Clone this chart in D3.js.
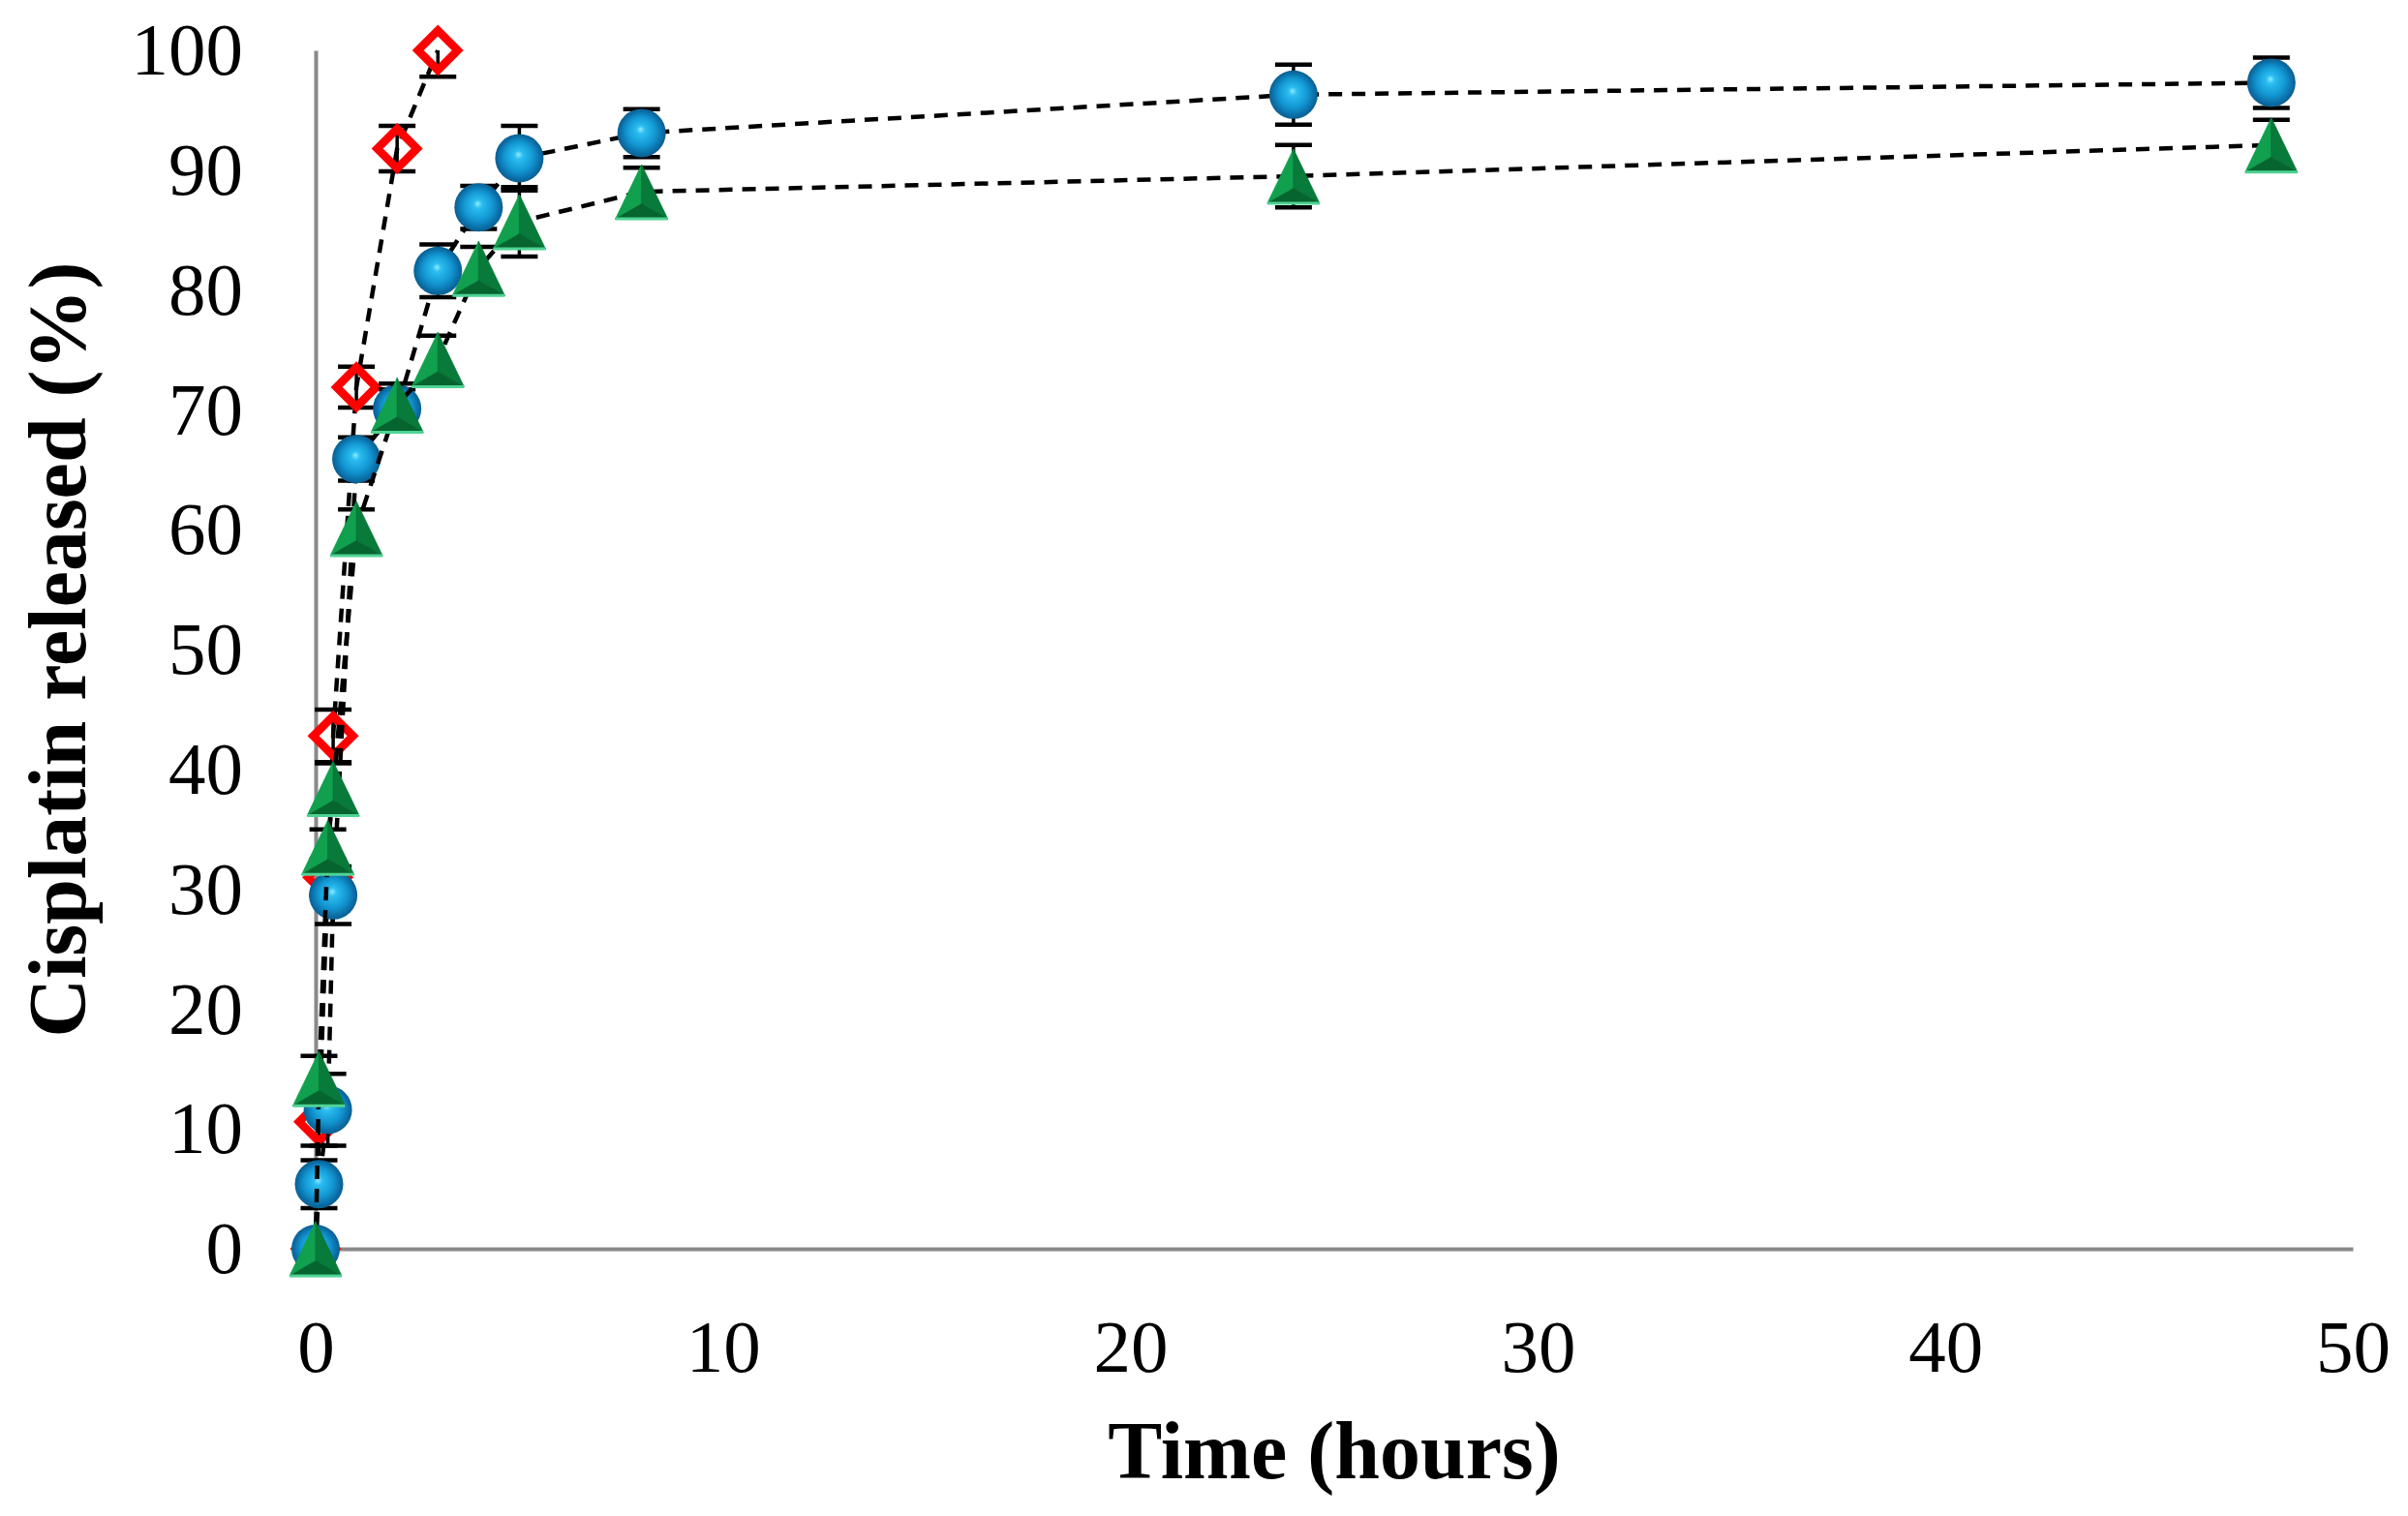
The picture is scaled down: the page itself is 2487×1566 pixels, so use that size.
<!DOCTYPE html>
<html lang="en">
<head>
<meta charset="utf-8">
<script src="https://d3js.org/d3.v7.min.js"></script>
<style>
    body { margin: 0; background: #fff; }
    text { font-family: "Liberation Serif", "Times New Roman", serif; }
</style>
<script>
// sampling times (hours), shared by the three series
var times = [0, 0.083, 0.3, 0.43, 1, 2, 3, 4, 5, 8, 24, 48];

// red open diamonds (stop at 3 h)
var diamondVals = [0, 10.6, 31, 42.8, 71.9, 91.8, 100];
var diamondErr  = [0, 2.0, 1.5, 2.2, 1.7, 1.9, 2.2];

// blue spheres
var circleVals = [0, 5.4, 11.6, 29.5, 65.9, 70.1, 81.6, 86.9, 91.0, 93.1, 96.3, 97.3];
var circleErr  = [0, 2.0, 3.0, 2.4, 1.8, 1.6, 2.2, 1.8, 2.7, 2.0, 2.5, 2.1];

// green triangles
var triangleVals = [0, 14.2, 33.5, 38.4, 60.1, 70.4, 74.2, 81.8, 85.7, 88.2, 89.5, 92.1];
var triangleErr  = [0, 1.9, 1.5, 2.1, 1.6, 1.8, 2.0, 1.8, 2.9, 2.0, 2.6, 2.1];

var xTicks = [0, 10, 20, 30, 40, 50];
var yTicks = [0, 10, 20, 30, 40, 50, 60, 70, 80, 90, 100];

window.addEventListener('load', function () { dessine(); });

function dessine() {
    var W = 2487, H = 1566;
    var x = d3.scaleLinear().domain([0, 50]).range([326, 2430]);
    var y = d3.scaleLinear().domain([0, 100]).range([1290, 52]);

    var svg = d3.select("#chart").append("svg")
        .attr("width", W).attr("height", H);
    svg.append("rect").attr("width", W).attr("height", H).attr("fill", "#fff");

    // gradient for the 3D-looking spheres
    var defs = svg.append("defs");
    var g = defs.append("radialGradient").attr("id", "sphere")
        .attr("cx", "50%").attr("cy", "50%").attr("r", "50%")
        .attr("fx", "48%").attr("fy", "42%");
    g.append("stop").attr("offset", "0%").attr("stop-color", "#8eeaff");
    g.append("stop").attr("offset", "18%").attr("stop-color", "#2bbdf0");
    g.append("stop").attr("offset", "60%").attr("stop-color", "#1296d2");
    g.append("stop").attr("offset", "90%").attr("stop-color", "#0a6aa2");
    g.append("stop").attr("offset", "100%").attr("stop-color", "#0c5f90");

    // axes (no tick marks, grey lines)
    var ax = svg.append("g").attr("transform", "translate(0,1290)")
        .call(d3.axisBottom(x).tickValues(xTicks).tickSize(0).tickPadding(72));
    var ay = svg.append("g").attr("transform", "translate(326,0)")
        .call(d3.axisLeft(y).tickValues(yTicks).tickSize(0).tickPadding(75));
    [ax, ay].forEach(function (a) {
        a.select(".domain").attr("stroke", "#898989").attr("stroke-width", 4);
        a.selectAll("text").attr("font-size", 77).attr("fill", "#000")
            .attr("font-family", "Liberation Serif");
    });

    svg.append("text").attr("x", 1378).attr("y", 1527)
        .attr("text-anchor", "middle").attr("font-size", 84).attr("font-weight", "bold")
        .text("Time (hours)");
    svg.append("text").attr("transform", "translate(88,671) rotate(-90)")
        .attr("text-anchor", "middle").attr("font-size", 84).attr("font-weight", "bold")
        .text("Cisplatin released (%)");

    var series = [
        { vals: diamondVals, err: diamondErr, shape: "diamond" },
        { vals: circleVals, err: circleErr, shape: "circle" },
        { vals: triangleVals, err: triangleErr, shape: "triangle" }
    ];

    var line = d3.line().x(function (d) { return x(d.t); }).y(function (d) { return y(d.v); });

    series.forEach(function (s) {
        var pts = s.vals.map(function (v, i) { return { t: times[i], v: v, e: s.err[i] }; });
        var gs = svg.append("g");

        // error bars
        pts.forEach(function (p) {
            if (p.e <= 0) return;
            var hi = Math.min(p.v + p.e, 100), lo = Math.max(p.v - p.e, 0);
            var px = x(p.t);
            gs.append("line").attr("x1", px).attr("x2", px)
                .attr("y1", y(lo)).attr("y2", y(hi))
                .attr("stroke", "#000").attr("stroke-width", 3.5);
            [[p.v + p.e, hi], [p.v - p.e, lo]].forEach(function (c) {
                if (c[0] !== c[1]) return;
                gs.append("line").attr("x1", px - 19).attr("x2", px + 19)
                    .attr("y1", y(c[1])).attr("y2", y(c[1]))
                    .attr("stroke", "#000").attr("stroke-width", 4.5);
            });
        });

        // dashed connecting line
        gs.append("path").datum(pts).attr("d", line)
            .attr("fill", "none").attr("stroke", "#000")
            .attr("stroke-width", 4.5).attr("stroke-dasharray", "14,10");

        // markers
        pts.forEach(function (p) {
            var cx = x(p.t), cy = y(p.v);
            if (s.shape == "circle") {
                gs.append("circle").attr("cx", cx).attr("cy", cy).attr("r", 25)
                    .attr("fill", "url(#sphere)");
            } else if (s.shape == "diamond") {
                var r = 20.5;
                gs.append("path")
                    .attr("d", "M" + cx + "," + (cy - r) + " L" + (cx + r) + "," + cy + " " + cx + "," + (cy + r) + " " + (cx - r) + "," + cy + "Z")
                    .attr("fill", "none").attr("stroke", "#ff0000").attr("stroke-width", 8.5)
                    .attr("stroke-linejoin", "miter");
            } else {
                var w = 27, h = 28;
                var top = [cx, cy - h], bl = [cx - w, cy + h], br = [cx + w, cy + h], mid = [cx, cy + h * 0.45];
                var faces = [[top, bl, mid, "#10a04e"], [top, mid, br, "#087a3a"], [bl, br, mid, "#06642f"]];
                faces.forEach(function (f) {
                    gs.append("path")
                        .attr("d", "M" + f[0] + " L" + f[1] + " " + f[2] + "Z")
                        .attr("fill", f[3]).attr("stroke", f[3]).attr("stroke-width", 0.8);
                });
                gs.append("line").attr("x1", bl[0]).attr("x2", br[0])
                    .attr("y1", bl[1]).attr("y2", br[1])
                    .attr("stroke", "#4fd394").attr("stroke-width", 3);
            }
        });
    });
}
</script>
</head>
<body>
<div id="chart"></div>
</body>
</html>
